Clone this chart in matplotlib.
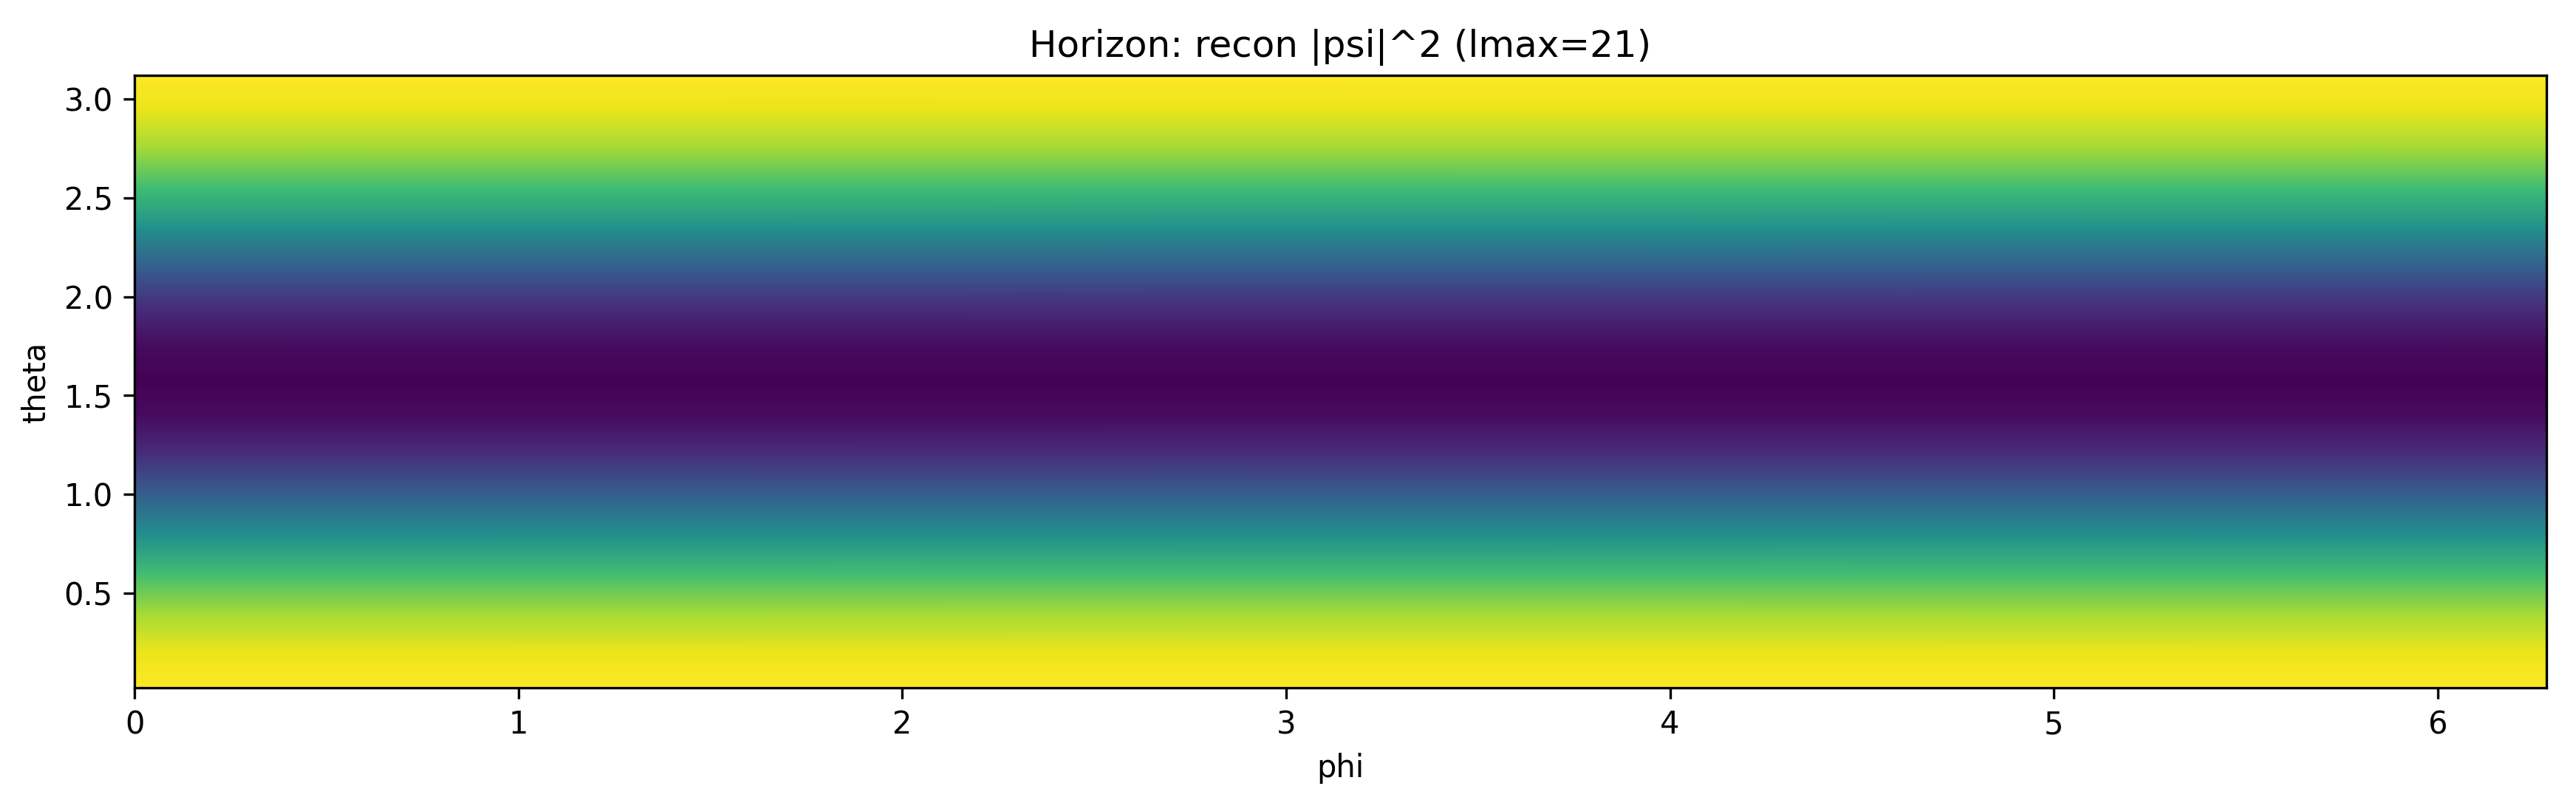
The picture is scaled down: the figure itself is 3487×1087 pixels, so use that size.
import numpy as np
import matplotlib
matplotlib.use("Agg")
import matplotlib.pyplot as plt

theta_vals = [0.02, 0.2, 0.4, 0.6, 0.8, 1.0, 1.2, 1.4, 1.57, 1.75, 1.95, 2.15, 2.35, 2.55, 2.75, 2.95, 3.12]
psi2_vals = [1.00, 0.97, 0.86, 0.69, 0.49, 0.30, 0.13, 0.03, 0.00, 0.03, 0.13, 0.30, 0.50, 0.69, 0.86, 0.97, 1.00]
phi_vals = [0.0, 2 * np.pi]

theta = np.array(theta_vals)
phi = np.array(phi_vals)
Z = np.repeat(np.array(psi2_vals)[:, None], len(phi), axis=1)

fig, ax = plt.subplots(figsize=(3487 / 300, 1087 / 300), dpi=300)
fig.subplots_adjust(left=0.0522, right=0.9885, bottom=0.1435, top=0.906)

ax.pcolormesh(phi, theta, Z, shading='gouraud', cmap='viridis', vmin=0, vmax=1)
ax.set_xlim(phi[0], phi[-1])
ax.set_ylim(theta[0], theta[-1])
ax.set_xlabel('phi')
ax.set_ylabel('theta')
ax.set_title('Horizon: recon |psi|^2 (lmax=21)')

fig.savefig('out.png', dpi=300)
